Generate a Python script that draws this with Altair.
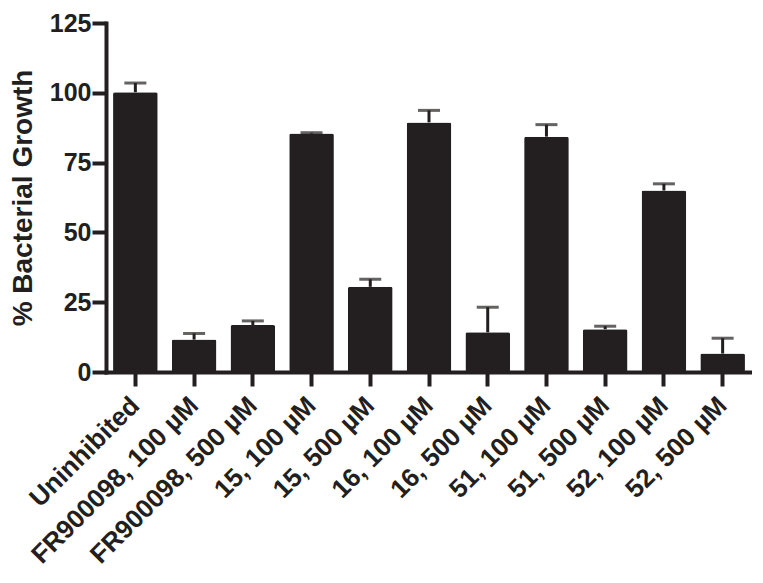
import altair as alt
import pandas as pd

categories = ["Uninhibited", "FR900098, 100 µM", "FR900098, 500 µM", "15, 100 µM",
              "15, 500 µM", "16, 100 µM", "16, 500 µM", "51, 100 µM", "51, 500 µM",
              "52, 100 µM", "52, 500 µM"]
means = [100.2, 11.6, 16.8, 85.4, 30.5, 89.4, 14.2, 84.3, 15.3, 65.0, 6.6]
errors = [3.3, 2.2, 1.5, 0.3, 2.7, 4.3, 9.0, 4.3, 1.1, 2.4, 5.5]
y_ticks = [0, 25, 50, 75, 100, 125]

INK = "#231f20"
FONT = "Liberation Sans"

df = pd.DataFrame({"cat": categories, "mean": means, "err": errors})
df["upper"] = df["mean"] + df["err"]

x_enc = alt.X(
    "cat:N", sort=categories,
    scale=alt.Scale(paddingInner=0.24, paddingOuter=0.12),
    axis=alt.Axis(title=None, labelAngle=-45, labelAlign="right", labelBaseline="middle",
                  labelFontSize=26, labelFontWeight="bold", labelFont=FONT, labelColor=INK,
                  labelPadding=15, labelLimit=500, tickSize=14, tickWidth=4, tickColor=INK,
                  domainWidth=4, domainColor=INK, domainCap="square", grid=False),
)

def y_enc(field):
    return alt.Y(
        field, scale=alt.Scale(domain=[0, 125], nice=False),
        axis=alt.Axis(values=y_ticks, title="% Bacterial Growth", titleFontSize=28,
                      titleFontWeight="bold", titleFont=FONT, titleColor=INK, titlePadding=12,
                      labelFontSize=25, labelFontWeight="bold", labelFont=FONT, labelColor=INK,
                      labelPadding=1, tickSize=14, tickWidth=4, tickColor=INK,
                      domainWidth=4, domainColor=INK, domainCap="square", grid=False),
    )

bars = alt.Chart(df).mark_bar(color=INK, cornerRadius=2).encode(x=x_enc, y=y_enc("mean:Q"))
stems = alt.Chart(df).mark_rule(color=INK, strokeWidth=3).encode(
    x=x_enc, y=y_enc("mean:Q"), y2="upper:Q")
caps = alt.Chart(df).mark_tick(color=INK, thickness=3, size=22).encode(
    x=x_enc, y=y_enc("upper:Q"))

chart = alt.layer(stems, caps, bars).properties(
    width=646, height=349,
    autosize=alt.AutoSizeParams(type="none"),
    padding={"left": 98, "top": 15, "right": 0, "bottom": 196},
).configure_view(stroke=None).configure_axis(tickSize=14)

chart.save("out.html", embed_options={"renderer": "svg", "actions": False})
